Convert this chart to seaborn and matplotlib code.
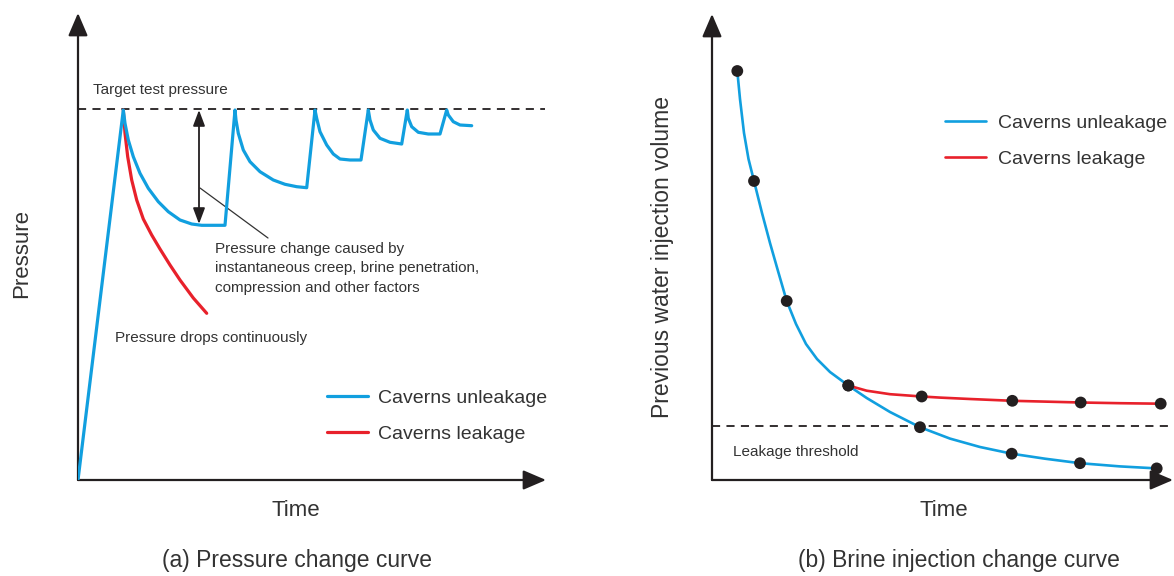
import matplotlib
matplotlib.use("Agg")
import matplotlib.pyplot as plt
import seaborn as sns

# ---------------- data (schematic units) ----------------
# (a) pressure change curve
target_pressure = 371
unleak_time = [0, 45.3, 47, 50.3, 55.3, 62, 70.3, 80.3, 90.3, 102, 113.7, 123.7, 147,
               157, 158, 160.3, 165.3, 172, 182, 195.3, 207, 218.7, 228.7,
               237, 238.7, 242, 248.7, 255.3, 262, 272, 283,
               290.3, 292, 295.3, 302, 312, 323.7,
               329.3, 330.3, 333.7, 340.3, 350.3, 362,
               368.7, 370.3, 375.3, 382, 393.7]
unleak_pressure = [0, 370, 356.7, 340, 323.3, 306.7, 291.7, 278.3, 268.3, 260, 256, 254.7, 254.7,
                   370, 360, 346.7, 330, 318.3, 308.3, 300, 295.7, 293.3, 292.3,
                   370, 361.7, 348.3, 335, 326, 321, 320, 320,
                   370, 360, 350, 341.7, 337.7, 336,
                   370, 361.7, 353.3, 347.7, 346, 346,
                   370, 365, 358.3, 355, 354.3]
leak_time = [45.3, 47, 49.7, 53.7, 58.7, 65.3, 73.7, 82, 92, 102, 115.3, 128.7]
leak_pressure = [370, 346.7, 323.3, 300, 280, 261, 245, 231, 215, 200, 182, 166.7]

# (b) brine injection change curve
threshold = 54
b_unleak_time = [25.3, 28, 32, 36.5, 42, 50, 58, 66, 74.7, 84, 94, 105, 118, 136.3,
                 154.7, 178, 208, 238, 268, 299.7, 333, 368, 408, 444.7]
b_unleak_vol = [409, 381, 347, 321, 299, 267, 237, 209, 179, 156, 136, 121, 108, 94.5,
                82, 68, 52.8, 41.4, 33, 26.3, 21.3, 16.8, 13.6, 11.6]
b_unleak_pts_t = [25.3, 42, 74.7, 136.3, 208, 299.7, 368, 444.7]
b_unleak_pts_v = [409, 299, 179, 94.5, 52.8, 26.3, 16.8, 11.6]
b_leak_time = [136.3, 154.7, 178, 209.7, 228, 258, 300.3, 368.7, 408, 448.7]
b_leak_vol = [94.5, 89.3, 85.8, 83.5, 82.4, 81, 79.2, 77.5, 76.8, 76.3]
b_leak_pts_t = [136.3, 209.7, 300.3, 368.7, 448.7]
b_leak_pts_v = [94.5, 83.5, 79.2, 77.5, 76.3]

series_labels = ["Caverns unleakage", "Caverns leakage"]

# ---------------- style ----------------
sns.set_style("white")
plt.rcParams['font.family'] = ['Liberation Sans', 'DejaVu Sans']
BLUE = "#119fdf"
RED = "#e8212b"
INK = "#231f20"
TXT = "#333333"

W, H = 1174, 576
fig = plt.figure(figsize=(W / 100, H / 100), dpi=100)
fig.patch.set_facecolor("white")

def fx(px):
    return px / W

def fy(py):
    return 1 - py / H

axL = fig.add_axes([fx(78), fy(480), (548 - 78) / W, (480 - 12) / H])
axR = fig.add_axes([fx(712), fy(480), (1174 - 712) / W, (480 - 12) / H])
for ax, xmax in ((axL, 470), (axR, 462)):
    ax.set_xlim(0, xmax)
    ax.set_ylim(0, 468)
    ax.set_xticks([])
    ax.set_yticks([])
    for s in ax.spines.values():
        s.set_visible(False)
    ax.patch.set_alpha(0)

arrow_kw = dict(arrowstyle="-|>,head_length=0.7,head_width=0.3", color=INK,
                lw=1.6, mutation_scale=20, shrinkA=0, shrinkB=0)

# ---------------- (a) ----------------
axL.annotate("", xy=(0, 467), xytext=(0, 0), arrowprops=arrow_kw, annotation_clip=False)
axL.annotate("", xy=(468, 0), xytext=(0, 0), arrowprops=arrow_kw, annotation_clip=False)
axL.axhline(target_pressure, xmin=0, xmax=467 / 470, color=INK, lw=1.3,
            dashes=(4.5, 3.5), zorder=1)

sns.lineplot(x=unleak_time, y=unleak_pressure, ax=axL, sort=False, estimator=None,
             color=BLUE, lw=2.3, label=series_labels[0], zorder=3)
sns.lineplot(x=leak_time, y=leak_pressure, ax=axL, sort=False, estimator=None,
             color=RED, lw=2.3, label=series_labels[1], zorder=2)

axL.annotate("", xy=(121, target_pressure - 1), xytext=(121, 256),
             arrowprops=dict(arrowstyle="<|-|>,head_length=0.8,head_width=0.3",
                             color=INK, lw=1.3, mutation_scale=12,
                             shrinkA=0, shrinkB=0))
axL.plot([122, 190], [292, 242], color=TXT, lw=0.9)

axL.text(15, 390, "Target test pressure", fontsize=11, color=TXT, ha="left", va="center")
axL.text(137, 238, "Pressure change caused by\ninstantaneous creep, brine penetration,\n"
         "compression and other factors", fontsize=11, color=TXT, ha="left",
         va="top", linespacing=1.49)
axL.text(37, 142, "Pressure drops continuously", fontsize=11, color=TXT,
         ha="left", va="center")

legL = axL.legend(loc="upper left", bbox_to_anchor=(fx(327), fy(389)),
                  bbox_transform=fig.transFigure, frameon=False, fontsize=14,
                  handlelength=2.1, handletextpad=0.5, labelspacing=0.98,
                  borderpad=0, borderaxespad=0)
for t in legL.get_texts():
    t.set_color(TXT)

fig.text(fx(22), fy(254), "Pressure", rotation=90, fontsize=16, color=TXT,
         ha="center", va="center")
fig.text(fx(296), fy(510), "Time", fontsize=16, color=TXT, ha="center", va="center")
fig.text(fx(297), fy(560), "(a) Pressure change curve", fontsize=16.5, color=TXT,
         ha="center", va="center")

# ---------------- (b) ----------------
axR.annotate("", xy=(0, 466), xytext=(0, 0), arrowprops=arrow_kw, annotation_clip=False)
axR.annotate("", xy=(461, 0), xytext=(0, 0), arrowprops=arrow_kw, annotation_clip=False)
axR.axhline(threshold, color=INK, lw=1.3, dashes=(4.5, 3.5), zorder=1)

sns.lineplot(x=b_unleak_time, y=b_unleak_vol, ax=axR, sort=False, estimator=None,
             color=BLUE, lw=1.9, label=series_labels[0], zorder=2)
sns.lineplot(x=b_leak_time, y=b_leak_vol, ax=axR, sort=False, estimator=None,
             color=RED, lw=1.9, label=series_labels[1], zorder=2)
sns.scatterplot(x=b_unleak_pts_t, y=b_unleak_pts_v, ax=axR, s=72, color=INK,
                edgecolor="none", zorder=4, legend=False)
sns.scatterplot(x=b_leak_pts_t, y=b_leak_pts_v, ax=axR, s=72, color=INK,
                edgecolor="none", zorder=4, legend=False)

axR.text(21, 28, "Leakage threshold", fontsize=11, color=TXT, ha="left", va="center")

legR = axR.legend(loc="upper left", bbox_to_anchor=(fx(945), fy(114)),
                  bbox_transform=fig.transFigure, frameon=False, fontsize=14,
                  handlelength=2.1, handletextpad=0.65, labelspacing=0.98,
                  borderpad=0, borderaxespad=0)
for t in legR.get_texts():
    t.set_color(TXT)

fig.text(fx(662), fy(257), "Previous water injection volume", rotation=90, fontsize=16.5,
         color=TXT, ha="center", va="center")
fig.text(fx(944), fy(510), "Time", fontsize=16, color=TXT, ha="center", va="center")
fig.text(fx(959), fy(560), "(b) Brine injection change curve", fontsize=16.5, color=TXT,
         ha="center", va="center")

fig.savefig("out.png", dpi=100, facecolor="white")
